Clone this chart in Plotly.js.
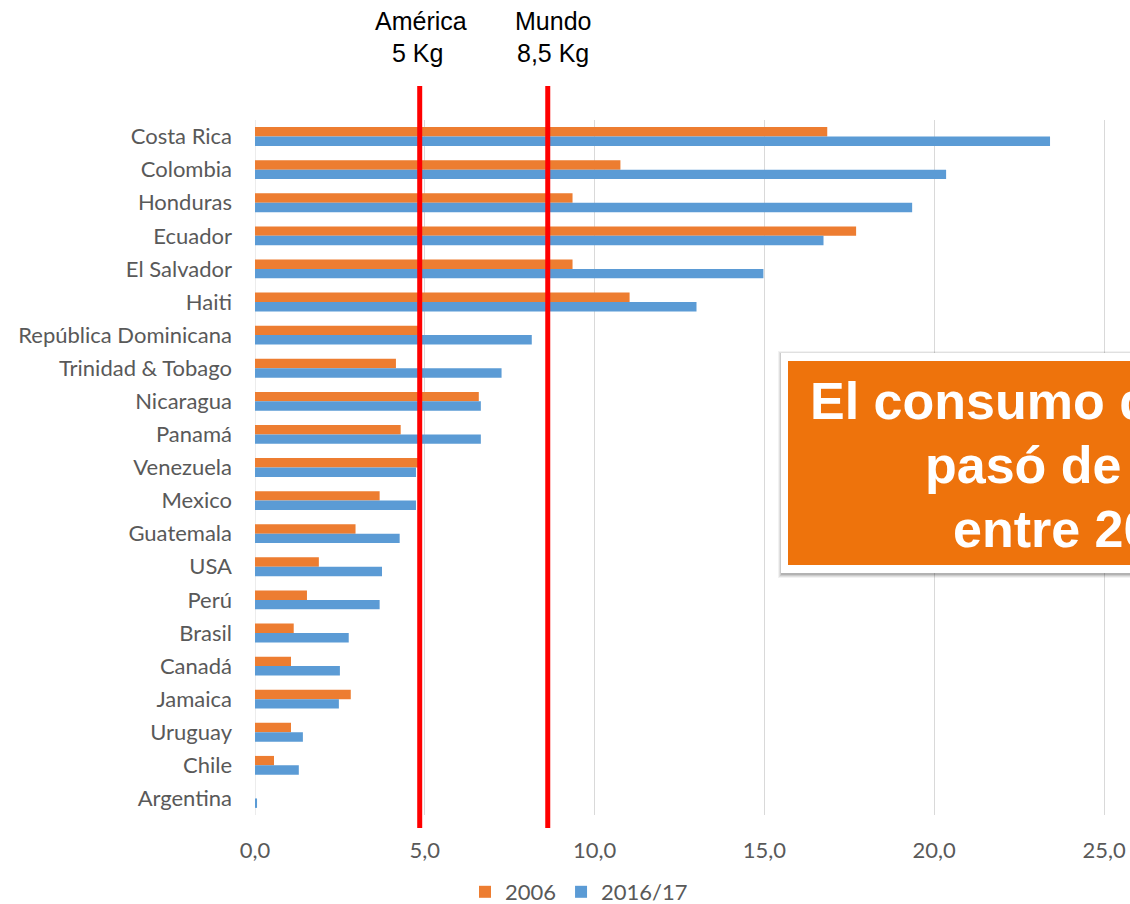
<!DOCTYPE html>
<html>
<head>
<meta charset="utf-8">
<script src="https://cdn.plot.ly/plotly-3.0.1.min.js"></script>
<style>html,body{margin:0;padding:0;background:#fff;}#chart{width:1130px;height:904px;}</style>
</head>
<body>
<div id="chart"></div>
<script>
var countries = ['Costa Rica','Colombia','Honduras','Ecuador','El Salvador','Haiti','República Dominicana','Trinidad & Tobago','Nicaragua','Panamá','Venezuela','Mexico','Guatemala','USA','Perú','Brasil','Canadá','Jamaica','Uruguay','Chile','Argentina'];
var v2006 = [16.85, 10.76, 9.35, 17.7, 9.35, 11.03, 4.8, 4.15, 6.59, 4.29, 4.8, 3.67, 2.96, 1.88, 1.53, 1.14, 1.06, 2.82, 1.06, 0.56, 0];
var v2016 = [23.41, 20.35, 19.35, 16.74, 14.97, 13.0, 8.15, 7.26, 6.65, 6.65, 4.74, 4.74, 4.26, 3.74, 3.67, 2.76, 2.5, 2.47, 1.41, 1.29, 0.06];
var seriesNames = ['2006', '2016/17'];
var refValues = [4.85, 8.62];
var refLabels = ['América', 'Mundo'];
var refSubLabels = ['5 Kg', '8,5 Kg'];
var boxLines = ['El consumo de', 'pasó de', 'entre 20'];
var xTicks = [0, 5, 10, 15, 20, 25];

var W = 1130, H = 904;
var mL = 255, mR = 0, mT = 120, mB = 89;
var pw = W - mL - mR, ph = H - mT - mB;
function px(x){ return (x - mL) / pw; }
function py(y){ return (H - mB - y) / ph; }

var labelFont = {family: 'Lato, "Open Sans", sans-serif', size: 22, color: '#595959'};

var traces = [
  {type:'bar', orientation:'h', name: seriesNames[0], y: countries, x: v2006,
   marker:{color:'#ED7D31'}},
  {type:'bar', orientation:'h', name: seriesNames[1], y: countries, x: v2016,
   marker:{color:'#5B9BD5'}}
];

var shapes = [];
refValues.forEach(function(v){
  shapes.push({type:'line', xref:'x', yref:'paper', x0:v, x1:v, y0:py(828), y1:py(86),
    line:{color:'#FF0000', width:5}});
});
// annotation box: soft shadow, white frame, orange fill
[[5,0.05],[4,0.07],[3,0.09],[2,0.12]].forEach(function(s){
  shapes.push({type:'rect', xref:'paper', yref:'paper', x0:px(781 - s[0] + 2), x1:px(1200), y0:py(573 + s[0]), y1:py(353 - s[0] + 3),
    line:{width:0}, fillcolor:'rgba(0,0,0,' + s[1] + ')'});
});
shapes.push({type:'rect', xref:'paper', yref:'paper', x0:px(781), x1:px(1200), y0:py(573), y1:py(353),
  line:{width:0}, fillcolor:'#FFFFFF'});
shapes.push({type:'rect', xref:'paper', yref:'paper', x0:px(788), x1:px(1200), y0:py(565), y1:py(361),
  line:{width:0}, fillcolor:'#EE730C'});

var annotations = [];
var refX = [421, 553];
var refSubX = [417, 553];
for (var i = 0; i < refLabels.length; i++){
  annotations.push({xref:'paper', yref:'paper', x:px(refX[i]), y:py(21), text:refLabels[i], showarrow:false,
    xanchor:'center', yanchor:'middle', font:{family:'Arial, "Liberation Sans", sans-serif', size:25, color:'#000'}});
  annotations.push({xref:'paper', yref:'paper', x:px(refSubX[i]), y:py(53), text:refSubLabels[i], showarrow:false,
    xanchor:'center', yanchor:'middle', font:{family:'Arial, "Liberation Sans", sans-serif', size:25, color:'#000'}});
}
var boxX = [808, 923, 951];
var boxY = [401, 465, 529];
for (var j = 0; j < boxLines.length; j++){
  annotations.push({xref:'paper', yref:'paper', x:px(boxX[j]), y:py(boxY[j]), text:'<b>'+boxLines[j]+'</b>', showarrow:false,
    xanchor:'left', yanchor:'middle', font:{family:'Arial, "Liberation Sans", sans-serif', size:52, color:'#FFFFFF'}});
}

var layout = {
  width: W, height: H,
  margin: {l:mL, r:mR, t:mT, b:mB, pad:0, autoexpand:false},
  paper_bgcolor:'#fff', plot_bgcolor:'#fff',
  separators: ',.',
  barmode:'group', bargap:0.43, bargroupgap:0,
  showlegend:true,
  legend:{orientation:'h', x:px(465), xanchor:'left', y:py(892), yanchor:'middle',
    font:labelFont, traceorder:'normal', itemwidth:30},
  xaxis:{range:[0, 25 + 26/34], tickvals:xTicks, tickformat:'.1f', showgrid:true, gridcolor:'#D9D9D9', gridwidth:1,
    zeroline:false, showline:false, ticks:'', ticklabelstandoff:20, tickfont:labelFont, fixedrange:true, automargin:false},
  yaxis:{autorange:'reversed', type:'category', showgrid:false, zeroline:false, showline:false,
    ticks:'', ticklabelstandoff:22, tickfont:labelFont, fixedrange:true, automargin:false},
  shapes: shapes.concat([{type:'line', xref:'x', yref:'paper', x0:0, x1:0, y0:0, y1:1, line:{color:'#D9D9D9', width:1}, layer:'below'}]),
  annotations: annotations
};

Plotly.newPlot('chart', traces, layout, {displayModeBar:false, staticPlot:true});
</script>
</body>
</html>
